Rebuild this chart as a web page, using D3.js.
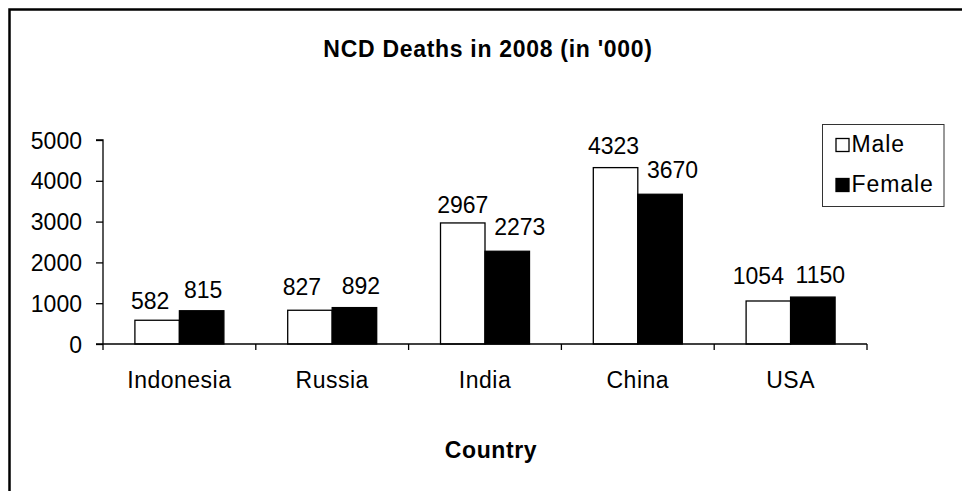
<!DOCTYPE html>
<html>
<head>
<meta charset="utf-8">
<script src="https://cdn.jsdelivr.net/npm/d3@7"></script>
<style>
  html, body { margin: 0; padding: 0; background: #fff; }
  svg { display: block; font-family: Arial, "Liberation Sans", sans-serif; }
</style>
</head>
<body>
<svg id="chart" width="962" height="491"></svg>
<script>
// ---- data ----
const countries = ["Indonesia", "Russia", "India", "China", "USA"];
const seriesNames = ["Male", "Female"];
const maleValues = [582, 827, 2967, 4323, 1054];
const femaleValues = [815, 892, 2273, 3670, 1150];
const yTicks = [0, 1000, 2000, 3000, 4000, 5000];
const titleText = "NCD Deaths in 2008 (in '000)";
const xAxisTitle = "Country";

// ---- layout (label nudges to mimic the original's placement) ----
const labelNudgeX = { Male: [-7, -8, 0, -2, -10], Female: [1.5, 6.5, 12.5, 12.5, 7.5] };
const labelLift   = { Male: [11, 15, 10, 14, 17], Female: [12.5, 14, 16, 16, 14] };

const svg = d3.select("#chart");
const W = 962, H = 491;
const plot = { left: 103, right: 867, top: 140, bottom: 344 };

// outer frame
svg.append("rect")
  .attr("x", 9.5).attr("y", 9.5)
  .attr("width", W + 20).attr("height", H + 20)
  .attr("fill", "#fff").attr("stroke", "#000").attr("stroke-width", 2.5);

const x = d3.scaleBand().domain(countries).range([plot.left, plot.right]).padding(0);
const xs = d3.scaleBand().domain(seriesNames).range([0, x.bandwidth()])
  .paddingInner(0).paddingOuter(0.717);
const y = d3.scaleLinear().domain([0, 5000]).range([plot.bottom, plot.top]);

const valuesBySeries = { Male: maleValues, Female: femaleValues };
const fills = { Male: "#fff", Female: "#000" };

const rows = [];
countries.forEach((c, i) => {
  seriesNames.forEach(s => rows.push({ country: c, i, series: s, value: valuesBySeries[s][i] }));
});

// bars
svg.append("g").selectAll("rect").data(rows).join("rect")
  .attr("x", d => x(d.country) + xs(d.series))
  .attr("y", d => y(d.value))
  .attr("width", xs.bandwidth())
  .attr("height", d => y(0) - y(d.value))
  .attr("fill", d => fills[d.series])
  .attr("stroke", "#000").attr("stroke-width", 1.3);

// y axis
const yAxis = d3.axisLeft(y).tickValues(yTicks).tickSize(7).tickPadding(14).tickFormat(d3.format("d"));
const gy = svg.append("g").attr("transform", `translate(${plot.left},0)`).call(yAxis);
gy.select(".domain").attr("stroke", "#000").attr("stroke-width", 1.3)
  .attr("d", `M-7,${plot.top}H0V${plot.bottom}`);
gy.selectAll(".tick line").attr("stroke", "#000").attr("stroke-width", 1.3);
gy.selectAll(".tick text").attr("font-size", 23).attr("fill", "#000")
  .attr("font-family", "Arial, 'Liberation Sans', sans-serif").attr("dy", "0.35em");

// x axis
const gx = svg.append("g").attr("transform", `translate(0,${plot.bottom})`);
gx.append("line").attr("x1", plot.left - 7).attr("x2", plot.right)
  .attr("y1", 0).attr("y2", 0).attr("stroke", "#000").attr("stroke-width", 1.3);
const boundaries = countries.map(c => x(c)).concat([x(countries[countries.length - 1]) + x.bandwidth()]);
gx.selectAll("line.tk").data(boundaries).join("line").attr("class", "tk")
  .attr("x1", d => d).attr("x2", d => d).attr("y1", 0).attr("y2", 6)
  .attr("stroke", "#000").attr("stroke-width", 1.3);
gx.selectAll("text").data(countries).join("text")
  .attr("x", d => x(d) + x.bandwidth() / 2)
  .attr("y", 43.5)
  .attr("text-anchor", "middle")
  .attr("font-size", 23).attr("letter-spacing", 0.5)
  .text(d => d);

// value labels
svg.append("g").selectAll("text").data(rows).join("text")
  .attr("x", d => x(d.country) + xs(d.series) + xs.bandwidth() / 2 + labelNudgeX[d.series][d.i])
  .attr("y", d => y(d.value) - labelLift[d.series][d.i])
  .attr("text-anchor", "middle")
  .attr("font-size", 23)
  .text(d => d.value);

// title
svg.append("text").attr("x", 488).attr("y", 57)
  .attr("text-anchor", "middle").attr("font-size", 23).attr("font-weight", "bold")
  .attr("letter-spacing", 0.7)
  .text(titleText);

// x axis title
svg.append("text").attr("x", 491).attr("y", 458)
  .attr("text-anchor", "middle").attr("font-size", 23).attr("font-weight", "bold")
  .attr("letter-spacing", 0.6)
  .text(xAxisTitle);

// legend
const lg = svg.append("g").attr("transform", "translate(822.5,124.5)");
lg.append("rect").attr("width", 121.5).attr("height", 82)
  .attr("fill", "#fff").attr("stroke", "#333").attr("stroke-width", 1);
seriesNames.forEach((s, k) => {
  const row = lg.append("g").attr("transform", `translate(0,${k * 40})`);
  row.append("rect").attr("x", 13.5).attr("y", 14).attr("width", 13).attr("height", 13)
    .attr("fill", fills[s]).attr("stroke", "#000").attr("stroke-width", 1.3);
  row.append("text").attr("x", 29).attr("y", 27).attr("font-size", 23)
    .attr("letter-spacing", 0.9).text(s);
});
</script>
</body>
</html>
